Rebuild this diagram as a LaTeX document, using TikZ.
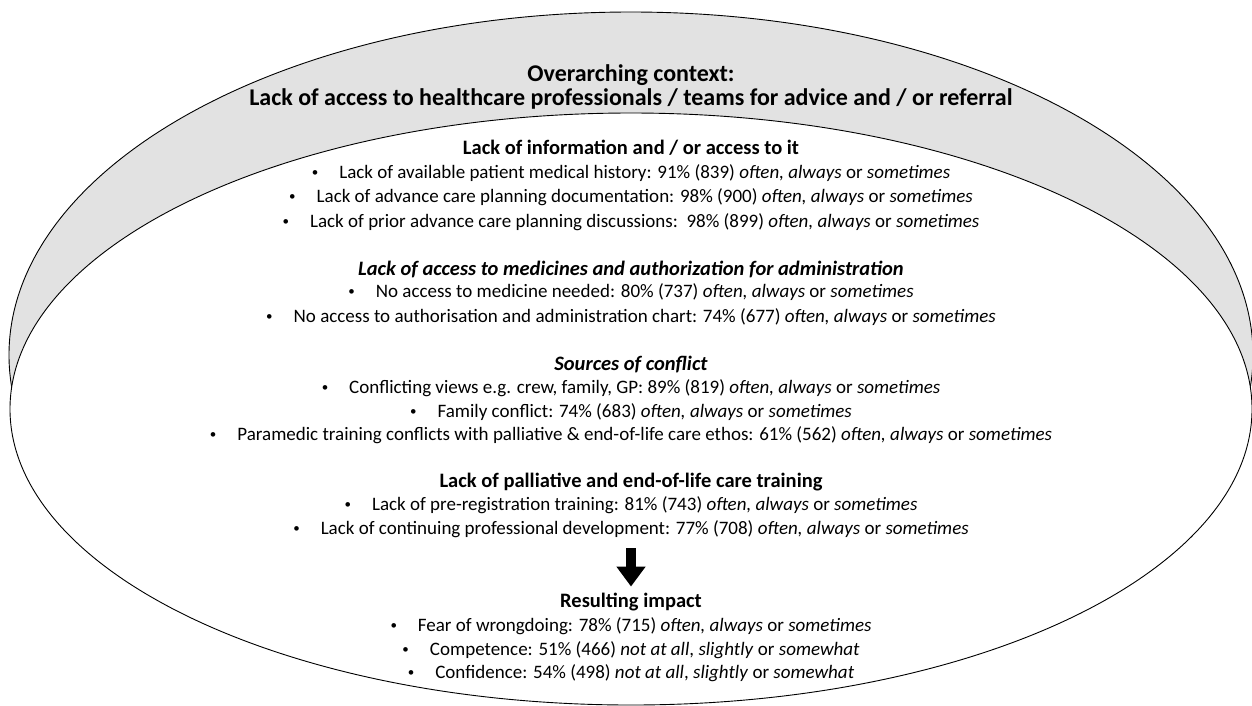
\documentclass[tikz,border=0pt]{standalone}
\usepackage{fontspec}
\setmainfont{Carlito}
\usetikzlibrary{arrows.meta}
\definecolor{ctxgrey}{RGB}{226,226,226}
\newcommand{\bul}{\raisebox{1.5pt}{\fontsize{13}{13}\selectfont\textbullet}\hspace{21pt}}
\newcommand{\oas}{\textit{often, always} or \textit{sometimes}}
\newcommand{\nss}{\textit{not at all}, \textit{slightly} or \textit{somewhat}}
\tikzset{
  ttl/.style={font=\fontsize{24}{26}\selectfont\bfseries},
  hd/.style={font=\fontsize{20.5}{22}\selectfont\bfseries},
  hdit/.style={font=\fontsize{20.5}{22}\selectfont\bfseries\itshape},
  oval/.style={draw=black,line width=0.9pt},
}
\begin{document}
\fontsize{19}{22}\selectfont
\begin{tikzpicture}[x=1pt,y=-1pt]
\useasboundingbox (0,0) rectangle (1252,705);
% the two ovals
\draw[oval,fill=ctxgrey] (631,355) ellipse [x radius=622, y radius=343];
\draw[oval,fill=white] (631,409) ellipse [x radius=621, y radius=296];
% context
\node[ttl](ctx1)at(631,75){Overarching context:};
\node[ttl](ctx2)at(631,99){Lack of access to healthcare professionals / teams for advice and / or referral};
% information
\node[hd](info)at(631,148){Lack of information and / or access to it};
\node(info1)at(631,173){\bul Lack of available patient medical history: 91\% (839) \oas};
\node(info2)at(631,197){\bul Lack of advance care planning documentation: 98\% (900) \oas};
\node(info3)at(631,222){\bul Lack of prior advance care planning discussions:\ \ 98\% (899) \oas};
% medicines
\node[hdit](med)at(631,269){Lack of access to medicines and authorization for administration};
\node(med1)at(631,292){\bul No access to medicine needed: 80\% (737) \oas};
\node(med2)at(631,317){\bul No access to authorisation and administration chart: 74\% (677) \oas};
% conflict
\node[hdit](conf)at(631,364){Sources of conflict};
\node(conf1)at(631,388){\bul Conflicting views e.g. crew, family, GP: 89\% (819) \oas};
\node(conf2)at(631,412){\bul Family conflict: 74\% (683) \oas};
\node(conf3)at(631,435){\bul Paramedic training conflicts with palliative \& end-of-life care ethos: 61\% (562) \oas};
% training
\node[hd](pal)at(631,482){Lack of palliative and end-of-life care training};
\node(pal1)at(631,505){\bul Lack of pre-registration training: 81\% (743) \oas};
\node(pal2)at(631,529){\bul Lack of continuing professional development: 77\% (708) \oas};
% impact
\node[hd](imp)at(631,602){Resulting impact};
\node(imp1)at(631,626){\bul Fear of wrongdoing: 78\% (715) \oas};
\node(imp2)at(631,650){\bul Competence: 51\% (466) \nss};
\node(imp3)at(631,673){\bul Confidence: 54\% (498) \nss};
\draw[-{Triangle[width=28pt,length=20pt]},line width=10pt,shorten <=4pt](pal2.south)--(imp.north);
\end{tikzpicture}
\end{document}
